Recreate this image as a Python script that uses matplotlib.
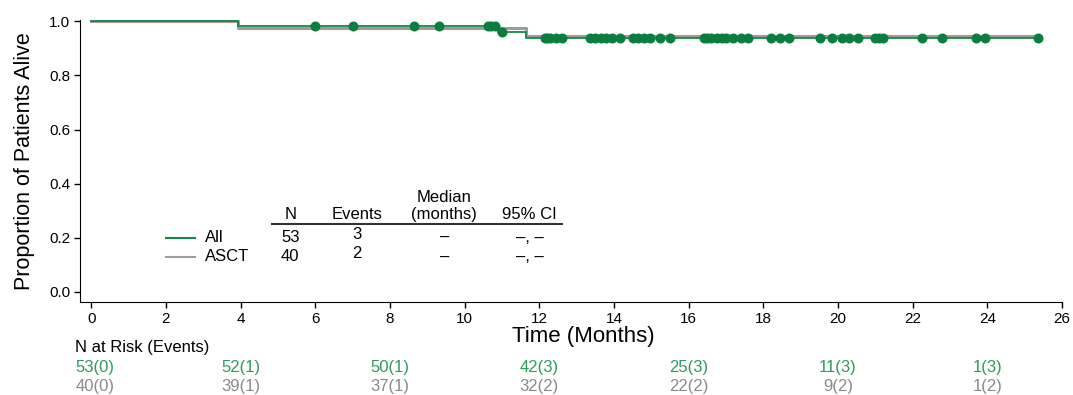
import matplotlib
matplotlib.use("Agg")
import matplotlib.pyplot as plt
import matplotlib.transforms as mtransforms
import numpy as np

plt.rcParams['font.family'] = ['Liberation Sans', 'DejaVu Sans']

# event and censoring times (months)
all_n = 53
all_events = [3.94, 10.9, 11.65]
all_censored = [6.0, 7.0,
                8.65, 9.32, 10.63, 10.7, 10.82, 11.0,
                12.15, 12.2, 12.3, 12.45, 12.6, 13.36, 13.5, 13.65, 13.8, 13.95,
                14.16, 14.5, 14.65, 14.8, 14.97, 15.23, 15.5,
                16.4, 16.5, 16.6, 16.75, 16.9, 17.0, 17.2, 17.4, 17.6, 18.2,
                18.45, 18.7, 19.53, 19.85,
                20.12, 20.3, 20.54, 21.0, 21.1, 21.2, 22.25, 22.78, 23.7, 23.95,
                25.36]

asct_n = 40
asct_events = [3.94, 11.65]
asct_censored = [6.0, 7.0,
                 8.65, 9.32, 10.63, 11.0,
                 12.15, 12.3, 12.6, 13.36, 13.65, 13.95, 14.5, 14.8, 15.23, 15.5,
                 16.4, 16.5, 16.6, 16.75, 16.9, 17.0, 17.2, 17.6, 18.2, 18.45,
                 18.7, 19.53, 19.85,
                 20.12, 20.3, 20.54, 21.0, 22.25, 22.78, 23.7, 23.95,
                 25.36]

risk_times = [0, 4, 8, 12, 16, 20, 24]
risk_all = ["53(0)", "52(1)", "50(1)", "42(3)", "25(3)", "11(3)", "1(3)"]
risk_asct = ["40(0)", "39(1)", "37(1)", "32(2)", "22(2)", "9(2)", "1(2)"]

table_cols = ["N", "Events", "Median\n(months)", "95% CI"]
table_all = ["53", "3", "\u2013", "\u2013, \u2013"]
table_asct = ["40", "2", "\u2013", "\u2013, \u2013"]

green = '#13894a'
green_dot = '#0b7d3e'
gray = '#a39a96'
green_txt = '#2f9a5c'
gray_txt = '#8c8888'


def km(n, events, censored, end):
    times = sorted(set(events) | set(censored))
    at_risk = n
    s = 1.0
    xs, ys = [0.0], [1.0]
    for t in times:
        d = events.count(t)
        c = censored.count(t)
        if d:
            s *= (at_risk - d) / at_risk
            xs.append(t)
            ys.append(s)
        at_risk -= d + c
    xs.append(end)
    ys.append(s)
    return np.array(xs), np.array(ys)


def surv_at(xs, ys, t):
    idx = np.searchsorted(xs, t, side='right') - 1
    return ys[idx]


fig = plt.figure(figsize=(10.73, 3.95), dpi=100)
ax = fig.add_axes([0.0746, 0.2354, 0.9151, 0.7136])

ax_x, ax_y = km(asct_n, asct_events, asct_censored, max(asct_censored))
al_x, al_y = km(all_n, all_events, all_censored, max(all_censored))

ax.step(ax_x, ax_y, where='post', color=gray, lw=2.2, zorder=2)
ax.step(al_x, al_y, where='post', color=green, lw=1.3, zorder=3)
cy = [surv_at(al_x, al_y, t) for t in all_censored]
ax.plot(all_censored, cy, 'o', color=green_dot, ms=7.2, mew=0, zorder=4)

ax.set_xlim(-0.3, 26.0)
ax.set_ylim(-0.037, 1.004)
ax.set_xticks(np.arange(0, 27, 2))
ax.set_yticks(np.arange(0, 1.01, 0.2))
ax.set_yticklabels(["%.1f" % v for v in np.arange(0, 1.01, 0.2)])
ax.spines['top'].set_visible(False)
ax.spines['right'].set_visible(False)
ax.tick_params(axis='both', labelsize=11, length=4, width=1, pad=3)
ax.set_ylabel("Proportion of Patients Alive", fontsize=15.5)
ax.yaxis.set_label_coords(-0.046, 0.5)
ax.set_xlabel("Time (Months)", fontsize=16)
ax.xaxis.set_label_coords(0.513, -0.085)

# summary table inside the plot
col_x = [0.214, 0.282, 0.371, 0.458]
for x, lab in zip(col_x, table_cols):
    ax.text(x, 0.285, lab, transform=ax.transAxes, ha='center', va='bottom',
            fontsize=12, linespacing=1.1)
ax.plot([0.1955, 0.491], [0.277, 0.277], transform=ax.transAxes,
        color='#333333', lw=1.5, clip_on=False)
for row_y, vals, lab, col in [(0.228, table_all, "All", green),
                              (0.160, table_asct, "ASCT", gray)]:
    ax.plot([0.0876, 0.117], [row_y, row_y], transform=ax.transAxes,
            color=col, lw=1.5)
    ax.text(0.127, row_y, lab, transform=ax.transAxes, ha='left',
            va='center', fontsize=12)
    for j, (x, v) in enumerate(zip(col_x, vals)):
        dy = 0.012 if j == 1 else 0
        ax.text(x, row_y + dy, v, transform=ax.transAxes, ha='center',
                va='center', fontsize=12)

# number at risk table
trans = mtransforms.blended_transform_factory(ax.transData, ax.transAxes)
ax.text(-0.43, -0.163, "N at Risk (Events)", transform=trans, ha='left',
        va='center', fontsize=12, clip_on=False)
for t, a, b in zip(risk_times, risk_all, risk_asct):
    if t == 0:
        x, ha = -0.43, 'left'
    else:
        x, ha = t, 'center'
    ax.text(x, -0.232, a, transform=trans, ha=ha, va='center', fontsize=12,
            color=green_txt, clip_on=False)
    ax.text(x, -0.298, b, transform=trans, ha=ha, va='center', fontsize=12,
            color=gray_txt, clip_on=False)

fig.savefig("out.png", dpi=100)
